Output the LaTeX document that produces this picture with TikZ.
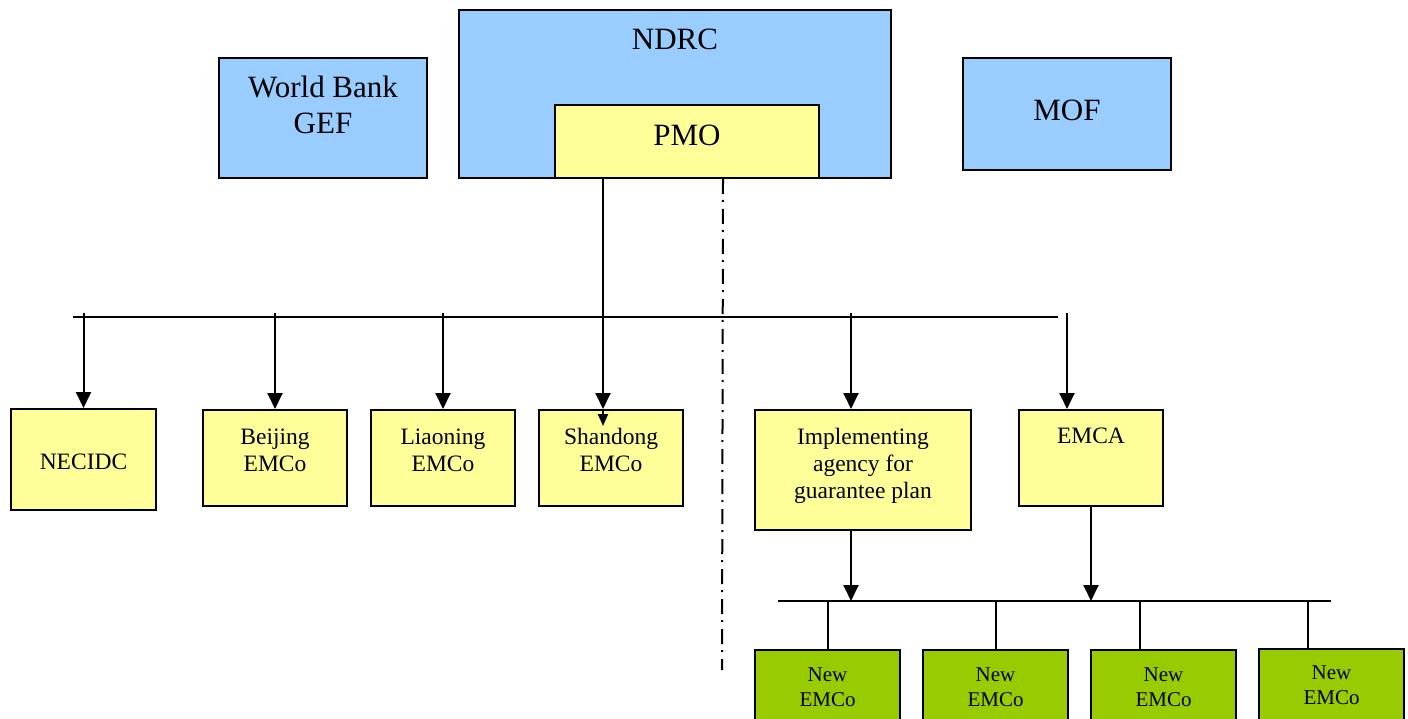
\documentclass[tikz,border=0pt]{standalone}
\usepackage{fontspec}
\setmainfont{Liberation Serif}
\usetikzlibrary{arrows.meta}
\definecolor{BoxBlue}{rgb}{0.6,0.8,1}
\definecolor{BoxYellow}{rgb}{1,1,0.6}
\definecolor{BoxGreen}{rgb}{0.6,0.8,0}

\tikzset{
  orgbox/.style={draw=black,line width=2pt,inner sep=0pt,anchor=north west,align=center},
  bigtext/.style={font=\fontsize{31}{36}\selectfont},
  midtext/.style={font=\fontsize{23.5}{27}\selectfont},
  smalltext/.style={font=\fontsize{21}{25}\selectfont},
  arr/.style={line width=2pt,-{Triangle[width=15pt,length=16pt]}},
  bus/.style={line width=2pt},
  dashdot/.style={line width=2pt,dash pattern=on 15pt off 6pt on 2pt off 7pt}
}

\begin{document}
\begin{tikzpicture}[x=1pt,y=-1pt]
\clip (0,0) rectangle (1408,719);
\fill[white] (0,0) rectangle (1408,719);

% top level
\node[orgbox,bigtext,fill=BoxBlue,minimum width=208pt,text height=76pt,text depth=44pt] (wb) at (218,57) {World Bank\\GEF};
\node[orgbox,bigtext,fill=BoxBlue,minimum width=432pt,text height=40pt,text depth=128pt] (ndrc) at (458,9) {NDRC};
\node[orgbox,bigtext,fill=BoxYellow,minimum width=264pt,text height=41pt,text depth=32pt] (pmo) at (554,104) {PMO};
\node[orgbox,bigtext,fill=BoxBlue,minimum width=208pt,text height=63pt,text depth=49pt] (mof) at (962,57) {MOF};

% second level
\node[orgbox,midtext,fill=BoxYellow,minimum width=145pt,text height=60pt,text depth=41pt] (necidc) at (10,408) {NECIDC};
\node[orgbox,midtext,fill=BoxYellow,minimum width=144pt,text height=61pt,text depth=35pt] (bj) at (202,409) {Beijing\\EMCo};
\node[orgbox,midtext,fill=BoxYellow,minimum width=144pt,text height=61pt,text depth=35pt] (ln) at (370,409) {Liaoning\\EMCo};
\node[orgbox,midtext,fill=BoxYellow,minimum width=144pt,text height=61pt,text depth=35pt] (sd) at (538,409) {Shandong\\EMCo};
\node[orgbox,midtext,fill=BoxYellow,minimum width=216pt,text height=88pt,text depth=32pt] (impl) at (754,409) {Implementing\\agency for\\guarantee plan};
\node[orgbox,midtext,fill=BoxYellow,minimum width=144pt,text height=33pt,text depth=63pt] (emca) at (1018,409) {EMCA};

% third level
\node[orgbox,smalltext,fill=BoxGreen,minimum width=145pt,text height=56pt,text depth=55pt] (ne1) at (754,649) {New\\EMCo};
\node[orgbox,smalltext,fill=BoxGreen,minimum width=145pt,text height=56pt,text depth=55pt] (ne2) at (922,649) {New\\EMCo};
\node[orgbox,smalltext,fill=BoxGreen,minimum width=145pt,text height=56pt,text depth=55pt] (ne3) at (1090,649) {New\\EMCo};
\node[orgbox,smalltext,fill=BoxGreen,minimum width=145pt,text height=55pt,text depth=55pt] (ne4) at (1258,648) {New\\EMCo};

% buses
\coordinate (busL) at (73,317);
\coordinate (busR) at (1058,317);
\coordinate (busT) at (0,313);
\coordinate (bus2L) at (778,601);
\coordinate (bus2R) at (1331,601);
\draw[bus] (busL) -- (busR);
\draw[bus] (bus2L) -- (bus2R);

% PMO down to the agencies
\coordinate (sdin) at ([xshift=-8pt]sd.north);
\draw[arr] (pmo.south -| sdin) -- (sdin);
\draw[line width=2pt,-{Triangle[width=10pt,length=12pt]}] (sdin) -- ++(0,17);
\draw[arr] (necidc.north |- busT) -- (necidc.north);
\draw[arr] (bj.north |- busT) -- (bj.north);
\draw[arr] (ln.north |- busT) -- (ln.north);
\coordinate (implin) at ([xshift=-12pt]impl.north);
\coordinate (emcain) at ([xshift=-24pt]emca.north);
\draw[arr] (implin |- busT) -- (implin);
\draw[arr] (emcain |- busT) -- (emcain);

% down to the new EMCos
\coordinate (implout) at ([xshift=-12pt]impl.south);
\draw[arr] (implout) -- (implout |- bus2L);
\draw[arr] (emca.south) -- (emca.south |- bus2L);
\coordinate (ne3in) at ([xshift=-24pt]ne3.north);
\coordinate (ne4in) at ([xshift=-24pt]ne4.north);
\draw[bus] (ne1.north |- bus2L) -- (ne1.north);
\draw[bus] (ne2.north |- bus2L) -- (ne2.north);
\draw[bus] (ne3in |- bus2L) -- (ne3in);
\draw[bus] (ne4in |- bus2L) -- (ne4in);

% divide
\coordinate (dashtop) at ([xshift=36pt]pmo.south);
\coordinate (dashend) at (722,670);
\draw[dashdot] (dashtop) -- (dashend);

\end{tikzpicture}
\end{document}
